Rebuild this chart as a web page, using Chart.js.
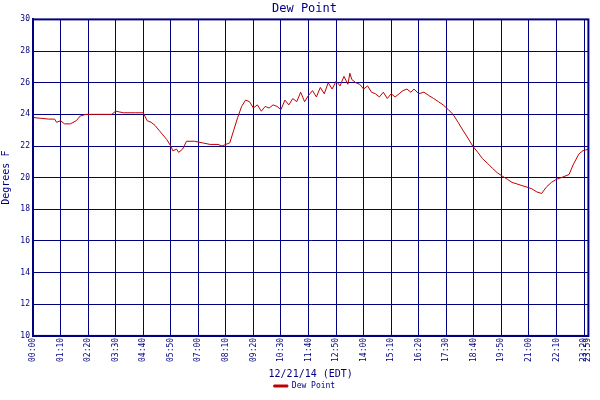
<!DOCTYPE html>
<html><head><meta charset="utf-8">
<script src="https://cdn.jsdelivr.net/npm/chart.js@4"></script>
<style>html,body{margin:0;background:#fff}#c{width:600px;height:400px}</style>
</head><body><div id="c"><canvas id="myChart"></canvas></div>
<script>
const minutes = [0,20,40,55,60,70,80,95,110,120,135,160,200,210,230,260,280,290,300,310,320,330,340,350,355,365,370,380,390,410,430,450,470,480,490,500,510,520,530,540,550,560,570,580,590,600,610,620,630,640,650,660,670,680,690,700,710,720,730,740,750,760,770,780,790,800,805,810,820,830,840,850,860,870,880,890,900,910,920,930,940,950,960,968,980,993,1005,1018,1030,1042,1055,1067,1080,1092,1105,1117,1130,1142,1155,1167,1180,1192,1205,1217,1230,1242,1255,1267,1280,1292,1304,1317,1330,1342,1362,1372,1387,1397,1411];
const dewPoint = [23.8,23.75,23.7,23.7,23.5,23.6,23.4,23.4,23.6,23.9,24.0,24.0,24.0,24.2,24.1,24.1,24.1,23.6,23.5,23.3,23.0,22.7,22.4,22.0,21.7,21.8,21.6,21.8,22.3,22.3,22.2,22.1,22.1,22.0,22.1,22.2,23.0,23.8,24.5,24.9,24.8,24.4,24.6,24.2,24.5,24.4,24.6,24.5,24.3,24.9,24.6,25.0,24.8,25.4,24.8,25.2,25.5,25.1,25.7,25.3,26.0,25.6,26.1,25.8,26.4,25.9,26.6,26.2,26.0,25.9,25.6,25.8,25.4,25.3,25.1,25.4,25.0,25.3,25.1,25.3,25.5,25.6,25.4,25.6,25.3,25.4,25.2,25.0,24.8,24.6,24.3,24.0,23.5,23.0,22.5,22.0,21.6,21.2,20.9,20.6,20.3,20.1,19.9,19.7,19.6,19.5,19.4,19.3,19.1,19.0,19.4,19.7,19.9,20.0,20.2,20.8,21.5,21.7,21.8];
const tickMinutes = [0,70,140,210,280,350,420,490,560,630,700,770,840,910,980,1050,1120,1190,1260,1330,1400,1411];
const yTicks = [10,12,14,16,18,20,22,24,26,28,30];

const navy = '#000080';
function hhmm(m){ if(m===1411) return '23:59'; const h=Math.floor(m/60), mm=m%60; return String(h).padStart(2,'0')+':'+String(mm).padStart(2,'0'); }

const ctx = document.getElementById('myChart').getContext('2d');
new Chart(ctx, {
  type:'line',
  data:{datasets:[{label:'Dew Point', data:minutes.map((m,i)=>({x:m,y:dewPoint[i]})), borderColor:'#c00000', backgroundColor:'#c00000', borderWidth:1, pointRadius:0, tension:0}]},
  options:{
    animation:false, responsive:true, maintainAspectRatio:false,
    layout:{padding:{top:0,right:-9,left:0,bottom:0}},
    plugins:{
      title:{display:true, text:'Dew Point', color:navy, font:{family:'DejaVu Sans Mono', size:12, weight:'normal'}, padding:{top:2,bottom:3}},
      legend:{position:'bottom', labels:{color:navy, font:{family:'DejaVu Sans Mono', size:8}, boxWidth:14, boxHeight:2, padding:2}},
      tooltip:{enabled:false}
    },
    scales:{
      x:{type:'linear', min:0, max:1411,
        afterBuildTicks:s=>{s.ticks=tickMinutes.map(v=>({value:v}));},
        ticks:{color:navy, font:{family:'DejaVu Sans Mono', size:8}, minRotation:90, maxRotation:90, callback:v=>hhmm(v), autoSkip:false, padding:2},
        grid:{color:navy, lineWidth:1, drawTicks:false},
        border:{color:navy, width:2},
        title:{display:true, text:'12/21/14 (EDT)', color:navy, font:{family:'DejaVu Sans Mono', size:10}, padding:{top:4,bottom:0}}},
      y:{min:10, max:30,
        afterBuildTicks:s=>{s.ticks=yTicks.map(v=>({value:v}));},
        afterFit:s=>{s.width=33;},
        ticks:{color:navy, font:{family:'DejaVu Sans Mono', size:8}, padding:3},
        grid:{color:navy, lineWidth:1, drawTicks:false},
        border:{color:navy, width:2},
        title:{display:true, text:'Degrees F', color:navy, font:{family:'DejaVu Sans Mono', size:10}, padding:0}}
    }
  },
  plugins:[{id:'frame', afterDraw(c){const a=c.chartArea,g=c.ctx;g.save();g.strokeStyle=navy;g.lineWidth=2;g.strokeRect(a.left,a.top,a.right-a.left,a.bottom-a.top);g.restore();}}]
});
</script></body></html>
